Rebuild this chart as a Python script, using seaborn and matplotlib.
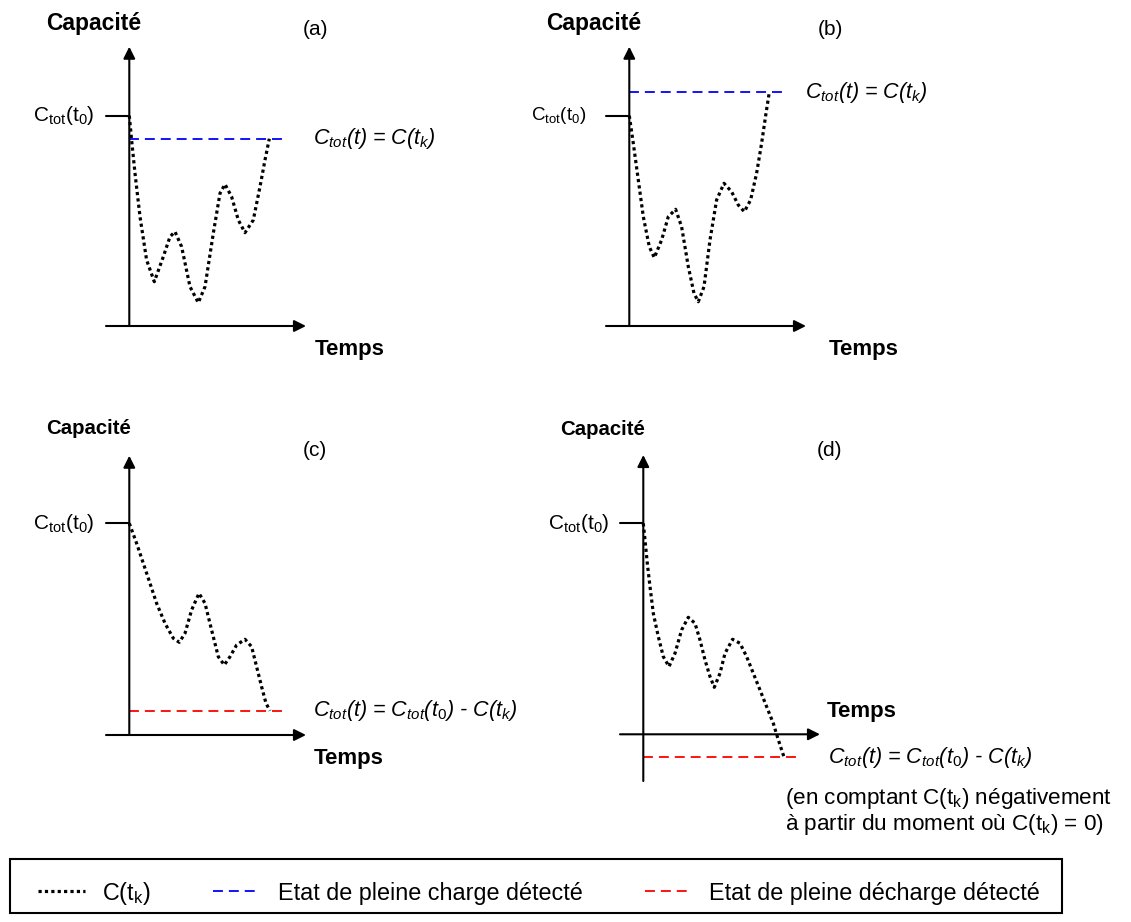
import matplotlib
matplotlib.use('Agg')
import matplotlib.pyplot as plt
from matplotlib.lines import Line2D
from matplotlib.patches import Rectangle
import seaborn as sns

sns.set_theme(style='white')
plt.rcParams['font.family'] = ['Liberation Sans', 'DejaVu Sans']
plt.rcParams['text.color'] = 'black'
plt.rcParams['mathtext.fontset'] = 'custom'
plt.rcParams['mathtext.rm'] = 'Liberation Sans'
plt.rcParams['mathtext.it'] = 'Liberation Sans:italic'
plt.rcParams['mathtext.bf'] = 'Liberation Sans:bold'

# C(t_k) curves (time, capacity), origin = where the axes cross
a_t = [0, 2.3, 5.7, 10.7, 17.3, 25, 34, 40.7, 45.7, 52.3, 60.7, 69, 75.7, 84, 90.7,
       95.7, 102.3, 109, 115.7, 124, 130.7, 135.7, 140]
a_c = [210.3, 186, 152.7, 109.3, 66, 44.3, 69.3, 89.3, 94.3, 79.3, 39.3, 23.3, 39.3, 92.7,
       132.7, 141.7, 129.3, 106, 93.3, 106, 139.3, 166, 187.3]

b_t = [0, 4, 9, 14, 20, 25, 32.3, 39, 46.3, 52.3, 59, 64.7, 69, 74.7, 80.7, 87.3, 94.7,
       102.3, 109, 115, 121.3, 127.3, 132.3, 136.7, 140]
b_c = [210.3, 182.7, 146, 109.3, 79.3, 68.3, 86, 109.3, 116.7, 99.3, 59.3, 32.7, 24.3, 39.3,
       86, 126, 142.7, 134.3, 121, 114.3, 126, 152.7, 182.7, 212.7, 233.7]

c_t = [0, 7.3, 14, 20.7, 27.3, 35.7, 44, 50, 55.7, 62.3, 69.7, 75.7, 82.3, 89, 95, 100.7,
       107.3, 115.7, 122.3, 127.3, 132.3, 136.7, 140.7]
c_c = [211.7, 191.7, 171.7, 151.7, 131.7, 111.7, 96.7, 92.7, 101.7, 125, 141.7, 131.7, 105,
       78.3, 70, 78.3, 90, 95.7, 88.3, 68.3, 48.3, 31.7, 24.3]

d_t = [0, 1.7, 4, 6.7, 10, 15, 20, 25.7, 31.7, 38.3, 45, 51.7, 56.7, 61.7, 66.7, 71, 76.7,
       81.7, 89.3, 96.7, 103.3, 110, 116.7, 123.3, 130, 133.3, 136.7, 140.7]
d_c = [211, 194.3, 171, 147.7, 121, 97.7, 77.7, 67.7, 81, 104.3, 117, 111, 94.3, 74.3, 57.7,
       47, 61, 81, 95, 91, 77.7, 61, 44.3, 27.7, 11, 0, -10.7, -22.7]

panel_letters = ['(a)', '(b)', '(c)', '(d)']
c0_levels = [210.3, 210.3, 211.7, 211.0]        # C_tot(t0)
detect_levels = [187.3, 233.7, 24.3, -22.7]     # full charge / full discharge detected
detect_colors = ['blue', 'blue', 'red', 'red']
yaxis_bottom = [0, 0, 0, -46.7]

f_charge = r'C$_{\mathit{tot}}$(t) = C(t$_{\mathit{k}}$)'
f_discharge = r'C$_{\mathit{tot}}$(t) = C$_{\mathit{tot}}$(t$_{\mathit{0}}$) - C(t$_{\mathit{k}}$)'
c0_label = r'C$_\mathregular{tot}$(t$_\mathregular{0}$)'
note_lines = [r'(en comptant C(t$_\mathregular{k}$) négativement',
              r'à partir du moment où C(t$_\mathregular{k}$) = 0)']

W, H = 1131, 922
fig = plt.figure(figsize=(W / 100, H / 100), dpi=100)
L, R, T, B = 60, 200, 300, 100

DOT = (0, (1, 1))
DASH = (0, (5.5, 3.3))
ARROW = dict(arrowstyle='-|>,head_length=0.7,head_width=0.35', color='black',
             lw=1.5, shrinkA=0, shrinkB=0, mutation_scale=10)


def add_panel(ox, oy):
    ax = fig.add_axes([(ox - L) / W, (H - (oy + B)) / H, (L + R) / W, (T + B) / H])
    ax.set_xlim(-L, R)
    ax.set_ylim(-B, T)
    ax.set_axis_off()
    return ax


def draw_panel(ax, t, c, i):
    ax.annotate('', xy=(0, 279.3), xytext=(0, yaxis_bottom[i]), arrowprops=ARROW)
    ax.annotate('', xy=(176.7, 0), xytext=(-23.3, 0), arrowprops=ARROW)
    ax.plot([-23.3, 0], [c0_levels[i], c0_levels[i]], color='black', lw=1.5)
    ax.hlines(detect_levels[i], 0, 157.3, colors=detect_colors[i], lw=1.3, linestyles=DASH)
    sns.lineplot(x=t, y=c, ax=ax, color='black', lw=2.3, linestyle=DOT,
                 sort=False, estimator=None)


origins = [(129.3, 326), (629.3, 326), (129.3, 735), (643.3, 734.3)]
curves = [(a_t, a_c), (b_t, b_c), (c_t, c_c), (d_t, d_c)]
axes = []
for i, (ox, oy) in enumerate(origins):
    ax = add_panel(ox, oy)
    draw_panel(ax, curves[i][0], curves[i][1], i)
    axes.append(ax)

formula_kw = dict(fontsize=15.5, fontstyle='italic', ha='left', va='center')

# panel (a)
ax = axes[0]
ax.text(-35.3, 302, 'Capacité', fontsize=16.5, fontweight='bold', ha='center', va='center')
ax.text(185.7, 296, panel_letters[0], fontsize=15, ha='center', va='center')
ax.text(-35.3, c0_levels[0], c0_label, fontsize=15, ha='right', va='center')
ax.text(183.7, detect_levels[0], f_charge, **formula_kw)
ax.text(185.7, -24, 'Temps', fontsize=16, fontweight='bold', ha='left', va='center')

# panel (b)
ax = axes[1]
ax.text(-35.6, 302, 'Capacité', fontsize=16.5, fontweight='bold', ha='center', va='center')
ax.text(200.7, 296, panel_letters[1], fontsize=15, ha='center', va='center')
ax.text(-43.3, c0_levels[1], c0_label, fontsize=13.5, ha='right', va='center')
ax.text(175.7, detect_levels[1], f_charge, **formula_kw)
ax.text(199, -24, 'Temps', fontsize=16, fontweight='bold', ha='left', va='center')

# panel (c)
ax = axes[2]
ax.text(-40.8, 306, 'Capacité', fontsize=14.7, fontweight='bold', ha='center', va='center')
ax.text(185.7, 285, panel_letters[2], fontsize=15, ha='center', va='center')
ax.text(-35, c0_levels[2], c0_label, fontsize=15, ha='right', va='center')
ax.text(184, detect_levels[2], f_discharge, **formula_kw)
ax.text(184, -23.3, 'Temps', fontsize=16, fontweight='bold', ha='left', va='center')

# panel (d)
ax = axes[3]
ax.text(-40.8, 305, 'Capacité', fontsize=14.7, fontweight='bold', ha='center', va='center')
ax.text(186.7, 284.3, panel_letters[3], fontsize=15, ha='center', va='center')
ax.text(-34.3, c0_levels[3], c0_label, fontsize=15, ha='right', va='center')
ax.text(183.4, 22.6, 'Temps', fontsize=16, fontweight='bold', ha='left', va='center')
ax.text(185, detect_levels[3], f_discharge, **formula_kw)
ax.text(141.7, -64.5, note_lines[0], fontsize=16.2, ha='left', va='center')
ax.text(141.7, -90.5, note_lines[1], fontsize=16.2, ha='left', va='center')

# legend in a framed box along the bottom
fig.add_artist(Rectangle((10 / W, 9 / H), 1052 / W, 54 / H, transform=fig.transFigure,
                         fill=False, lw=1.5, ec='black'))
handles = [Line2D([], [], color='black', lw=2.3, linestyle=DOT),
           Line2D([], [], color='blue', lw=1.3, linestyle=DASH),
           Line2D([], [], color='red', lw=1.3, linestyle=DASH)]
labels = [r'C(t$_\mathregular{k}$)', 'Etat de pleine charge détecté',
          'Etat de pleine décharge détecté']
fig.legend(handles, labels, loc='center left', ncol=3, mode='expand',
           bbox_to_anchor=(38 / W, 1 - 893 / H, 1002 / W, 0), frameon=False,
           fontsize=16.8, handlelength=2.0, handletextpad=0.75, borderpad=0,
           borderaxespad=0)

fig.savefig('out.png', dpi=100)
